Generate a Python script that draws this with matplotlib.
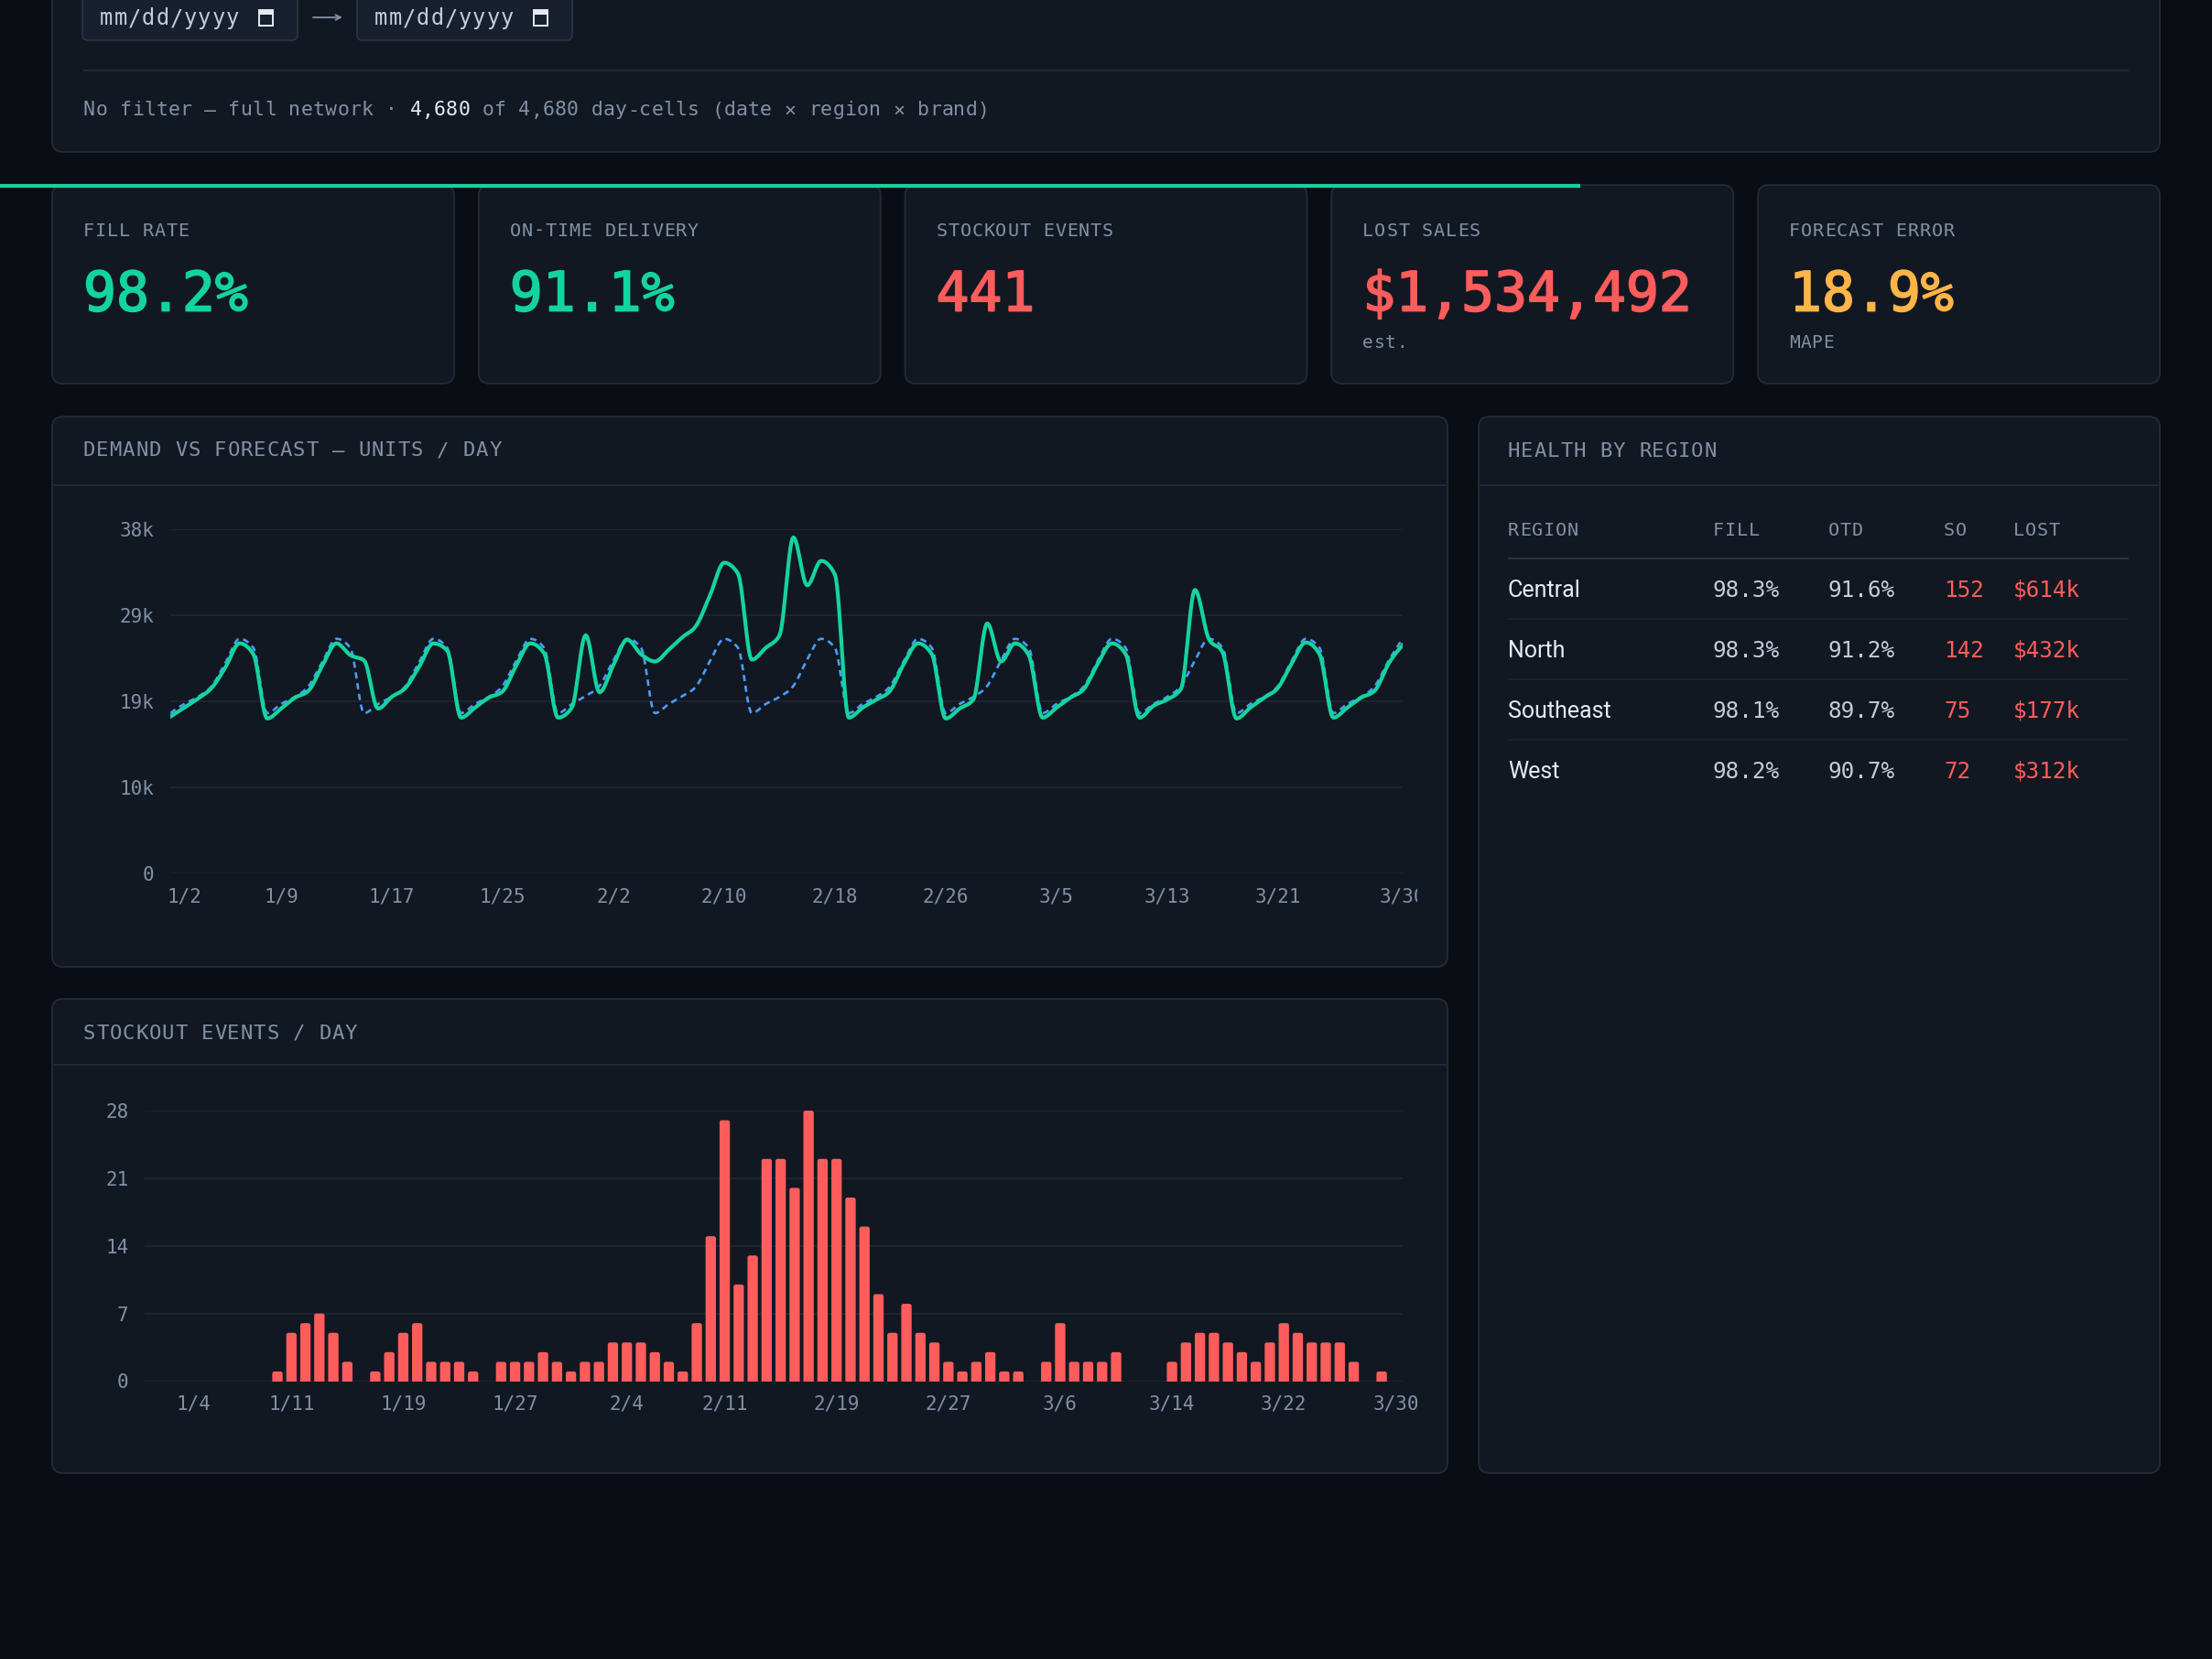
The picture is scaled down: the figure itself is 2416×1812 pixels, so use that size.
import numpy as np
import matplotlib
matplotlib.use("Agg")
import matplotlib.pyplot as plt
import matplotlib.patheffects as pe
from matplotlib.patches import FancyBboxPatch, Rectangle
from matplotlib.transforms import Bbox, TransformedBbox

W, H = 2416, 1812
MONO = "DejaVu Sans Mono"
SANS = "Roboto"
plt.rcParams["font.family"] = [MONO, "DejaVu Sans"]

# colours
BG = "#0a0d14"
CARD = "#121822"
BORDER = "#232b38"
INPUT = "#182030"
GRID = "#1d2430"
MUTED = "#8290a4"
TEXT = "#c3ccd8"
WHITE = "#e6ebf1"
GREEN = "#14d49e"
RED = "#ff5c5c"
AMBER = "#ffb547"
BLUE = "#4c9bff"

# ---- data ----
filter_parts = ["No filter \u2014 full network \u00b7 ", "4,680", " of 4,680 day-cells (date \u00d7 region \u00d7 brand)"]

kpi_labels = ["FILL RATE", "ON-TIME DELIVERY", "STOCKOUT EVENTS", "LOST SALES", "FORECAST ERROR"]
kpi_values = ["98.2%", "91.1%", "441", "$1,534,492", "18.9%"]
kpi_notes = ["", "", "", "est.", "MAPE"]
kpi_colors = [GREEN, GREEN, RED, RED, AMBER]

# units / day, 2024-01-01 .. 2024-03-30
demand = [
    17300, 18300, 19300, 20500, 22800, 25400, 24200,
    17100, 18200, 19400, 20200, 23000, 25400, 24100,
    23500, 18200, 19500, 20500, 22900, 25400, 24600,
    17200, 18300, 19400, 20100, 23000, 25400, 24300,
    17200, 18300, 26300, 20000, 23000, 25800, 24200,
    23400, 24700, 26100, 27400, 30800, 34300, 33100,
    23600, 24900, 26300, 37100, 31800, 34500, 33000,
    17200, 18300, 19200, 20200, 23200, 25400, 24200,
    17100, 18200, 19200, 27600, 23400, 25400, 24100,
    17200, 18300, 19400, 20400, 23200, 25400, 24200,
    17200, 18500, 19200, 20400, 31300, 25900, 24400,
    17100, 18300, 19400, 20500, 23200, 25500, 24200,
    17200, 18300, 19400, 20200, 23200, 25200,
]
forecast = [
    17700, 18700, 19500, 20700, 23300, 25900, 24900,
    17700, 18700, 19500, 20700, 23400, 25900, 24900,
    17700, 18700, 19500, 20700, 23400, 25900, 24900,
    17700, 18700, 19500, 20700, 23500, 25900, 24900,
    17700, 18700, 19600, 20700, 23500, 25900, 24900,
    17700, 18700, 19600, 20700, 23500, 25900, 24900,
    17700, 18700, 19500, 20700, 23600, 25900, 24900,
    17700, 18700, 19500, 20700, 23500, 25900, 24900,
    17700, 18700, 19500, 20700, 23500, 25900, 24900,
    17700, 18700, 19500, 20700, 23500, 25900, 24900,
    17700, 18700, 19500, 20700, 23500, 25900, 24900,
    17700, 18700, 19500, 20700, 23500, 25900, 24900,
    17700, 18700, 19500, 20700, 23500, 25900,
]
line_tick_idx = [1, 8, 16, 24, 32, 40, 48, 56, 64, 72, 80, 89]
line_tick_labels = ["1/2", "1/9", "1/17", "1/25", "2/2", "2/10", "2/18", "2/26", "3/5", "3/13", "3/21", "3/30"]
demand_yticks = [0, 9500, 19000, 28500, 38000]
demand_ylabels = ["0", "10k", "19k", "29k", "38k"]

# stockout events / day, 2024-01-01 .. 2024-03-30
stockouts = [
    0, 0, 0, 0, 0, 0, 0, 0, 0, 1,
    5, 6, 7, 5, 2, 0, 1, 3, 5, 6,
    2, 2, 2, 1, 0, 2, 2, 2, 3, 2,
    1, 2, 2, 4, 4, 4, 3, 2, 1, 6,
    15, 27, 10, 13, 23, 23, 20, 28, 23, 23,
    19, 16, 9, 5, 8, 5, 4, 2, 1, 2,
    3, 1, 1, 0, 2, 6, 2, 2, 2, 3,
    0, 0, 0, 2, 4, 5, 5, 4, 3, 2,
    4, 6, 5, 4, 4, 4, 2, 0, 1, 0,
]
bar_tick_idx = [3, 10, 18, 26, 34, 41, 49, 57, 65, 73, 81, 89]
bar_tick_labels = ["1/4", "1/11", "1/19", "1/27", "2/4", "2/11", "2/19", "2/27", "3/6", "3/14", "3/22", "3/30"]
stock_yticks = [0, 7, 14, 21, 28]

regions = ["Central", "North", "Southeast", "West"]
region_fill = ["98.3%", "98.3%", "98.1%", "98.2%"]
region_otd = ["91.6%", "91.2%", "89.7%", "90.7%"]
region_so = ["152", "142", "75", "72"]
region_lost = ["$614k", "$432k", "$177k", "$312k"]


def monotone(x, y, per=14):
    # monotone cubic (like d3 curveMonotoneX) for drawing the smooth line
    x = np.asarray(x, float)
    y = np.asarray(y, float)
    h = np.diff(x)
    s = np.diff(y) / h
    n = len(x)
    m = np.zeros(n)
    for i in range(1, n - 1):
        s0, s1 = s[i - 1], s[i]
        p = (s0 * h[i] + s1 * h[i - 1]) / (h[i - 1] + h[i])
        sg = (1 if s0 >= 0 else -1) + (1 if s1 >= 0 else -1)
        m[i] = sg * min(abs(s0), abs(s1), 0.5 * abs(p))
    m[0] = (3 * s[0] - m[1]) / 2
    m[-1] = (3 * s[-1] - m[-2]) / 2
    xs, ys = [], []
    t = np.linspace(0, 1, per, endpoint=False)
    for i in range(n - 1):
        h00 = 2 * t**3 - 3 * t**2 + 1
        h10 = t**3 - 2 * t**2 + t
        h01 = -2 * t**3 + 3 * t**2
        h11 = t**3 - t**2
        xs.extend(x[i] + t * h[i])
        ys.extend(h00 * y[i] + h10 * h[i] * m[i] + h01 * y[i + 1] + h11 * h[i] * m[i + 1])
    xs.append(x[-1])
    ys.append(y[-1])
    return np.array(xs), np.array(ys)


fig = plt.figure(figsize=(W / 100, H / 100), dpi=100, facecolor=BG)
bg = fig.add_axes([0, 0, 1, 1])
bg.set_xlim(0, W)
bg.set_ylim(H, 0)
bg.axis("off")


def card(x0, y0, x1, y1, r=12, fc=CARD, ec=BORDER):
    bg.add_patch(FancyBboxPatch((x0, y0), x1 - x0, y1 - y0,
                                boxstyle=f"round,pad=0,rounding_size={r}",
                                fc=fc, ec=ec, lw=1.3))


def txt(x, y, s, size, color, family=None, ha="left", effects=None):
    bg.text(x, y, s, fontsize=size, color=color, family=family or [MONO, "DejaVu Sans"],
            ha=ha, va="baseline", path_effects=effects)


def spaced(x, y, s, size, color, adv):
    # mono text with letter-spacing: one glyph per cell
    for i, ch in enumerate(s):
        if ch != " ":
            txt(x + i * adv, y, ch, size, color)
    return x + len(s) * adv


def hline(x0, x1, y, color=BORDER, lw=1.3):
    bg.plot([x0, x1], [y, y], color=color, lw=lw, solid_capstyle="butt")


# ---- filter panel (top, cut off) ----
card(57, -40, 2359, 166)
for bx, ix in [(90, 283), (390, 583)]:
    card(bx, -20, bx + 235, 44, r=6, fc=INPUT, ec="#2a3344")
    spaced(bx + 19, 27, "mm/dd/yyyy", 17, TEXT, 15.3)
    bg.add_patch(Rectangle((ix, 11), 15, 17, fc="none", ec=WHITE, lw=1.4))
    bg.add_patch(Rectangle((ix, 11), 15, 5, fc=WHITE, ec="none"))
bg.annotate("", xy=(374, 19), xytext=(342, 19),
            arrowprops=dict(arrowstyle="->", color=MUTED, lw=1.3, shrinkA=0, shrinkB=0))
hline(91, 2325, 77)
fx = 91
for part, col in zip(filter_parts, [MUTED, WHITE, MUTED]):
    fx = spaced(fx, 126.5, part, 15.5, col, 13.2)

# ---- KPI cards ----
cw, gap = 439, (2302 - 5 * 439) / 4
for k in range(5):
    x0 = 57 + k * (cw + gap)
    card(x0, 202, x0 + cw, 419)
    spaced(x0 + 34, 257.5, kpi_labels[k], 14.5, MUTED, 12.95)
    txt(x0 + 34, 339.5, kpi_values[k], 43, kpi_colors[k],
        effects=[pe.withStroke(linewidth=1.3, foreground=kpi_colors[k])])
    if kpi_notes[k]:
        spaced(x0 + 34, 379.5, kpi_notes[k], 14, MUTED, 12.3)
bg.plot([0, 1726], [203, 203], color=GREEN, lw=3, solid_capstyle="butt", zorder=5)

# ---- chart cards ----
card(57, 455, 1581, 1056)
spaced(91, 498.5, "DEMAND VS FORECAST \u2014 UNITS / DAY", 16, MUTED, 14.3)
hline(57, 1581, 530)

card(57, 1091, 1581, 1609)
spaced(91, 1135, "STOCKOUT EVENTS / DAY", 16, MUTED, 14.3)
hline(57, 1581, 1163)

card(1615, 455, 2359, 1609)
spaced(1647, 499, "HEALTH BY REGION", 16, MUTED, 14.3)
hline(1615, 2359, 530)

# ---- region table ----
col_x = [1647, 1871, 1997, 2123, 2199]
for cx, lab in zip(col_x, ["REGION", "FILL", "OTD", "SO", "LOST"]):
    spaced(cx, 585, lab, 14.5, MUTED, 12.95)
hline(1647, 2325, 610, color="#2a3341", lw=1.5)
row_base = [651.5, 717.5, 783.5, 849.5]
for r in range(len(regions)):
    yb = row_base[r]
    txt(col_x[0], yb, regions[r], 18, WHITE, family=SANS)
    txt(col_x[1], yb, region_fill[r], 17.5, TEXT)
    txt(col_x[2], yb, region_otd[r], 17.5, TEXT)
    txt(col_x[3], yb, region_so[r], 17.5, RED)
    txt(col_x[4], yb, region_lost[r], 17.5, RED)
    if r < len(regions) - 1:
        hline(1647, 2325, yb + 24.5, color="#1b222d", lw=1.5)


def chart_axes(x0, y0, x1, y1):
    ax = fig.add_axes([x0 / W, 1 - y1 / H, (x1 - x0) / W, (y1 - y0) / H])
    ax.set_facecolor("none")
    for sp in ax.spines.values():
        sp.set_visible(False)
    ax.tick_params(length=0, colors=MUTED, labelsize=15)
    ax.tick_params(axis="x", pad=11)
    ax.tick_params(axis="y", pad=12.5)
    ax.grid(axis="y", color=GRID, lw=1.5)
    ax.set_axisbelow(True)
    return ax


clip = TransformedBbox(Bbox.from_extents(0, 0, 1548 / W, 1), fig.transFigure)

# demand vs forecast
ax1 = chart_axes(186, 578, 1532, 954)
idx = np.arange(len(demand))
fx_, fy_ = monotone(idx, forecast)
dx_, dy_ = monotone(idx, demand)
ax1.plot(fx_, fy_, color=BLUE, lw=1.9, dashes=(2.6, 1.9))
ax1.plot(dx_, dy_, color=GREEN, lw=3.0, solid_joinstyle="round")
ax1.set_xlim(0, len(demand) - 1)
ax1.set_ylim(0, 38000)
ax1.set_yticks(demand_yticks)
ax1.set_yticklabels(demand_ylabels)
ax1.set_xticks(line_tick_idx)
for lab in ax1.set_xticklabels(line_tick_labels):
    lab.set_clip_box(clip)
    lab.set_clip_on(True)

# stockouts per day, bars with rounded tops
ax2 = chart_axes(158, 1213, 1532, 1508.5)
bars = ax2.bar(np.arange(len(stockouts)), stockouts, width=0.74, color=RED)
ax2.set_xlim(-0.5, len(stockouts) - 0.5)
ax2.set_ylim(0, 28)
aspect = (28 / 295.5) / (len(stockouts) / 1374)
for b in bars:
    if b.get_height() > 0:
        ax2.add_patch(FancyBboxPatch((b.get_x(), -0.5), b.get_width(), b.get_height() + 0.5,
                                     boxstyle="round,pad=0,rounding_size=0.16",
                                     mutation_aspect=aspect, fc=RED, ec="none"))
    b.remove()
ax2.set_yticks(stock_yticks)
ax2.set_xticks(bar_tick_idx)
for lab in ax2.set_xticklabels(bar_tick_labels):
    lab.set_clip_box(clip)
    lab.set_clip_on(True)

fig.savefig("out.png", dpi=100, facecolor=BG)
